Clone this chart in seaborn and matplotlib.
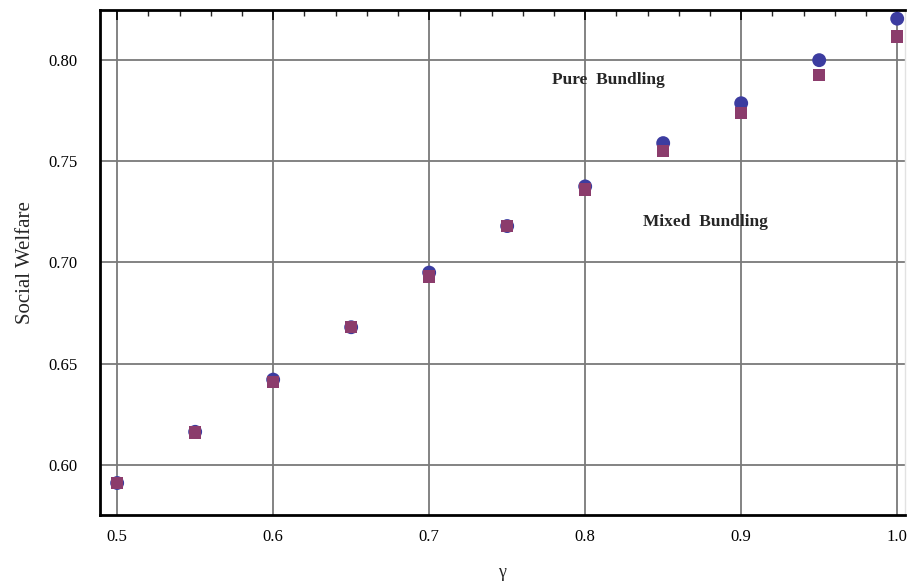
import numpy as np
import pandas as pd
import matplotlib
matplotlib.use("Agg")
import matplotlib.pyplot as plt
from matplotlib.ticker import MultipleLocator
import seaborn as sns

gamma = [0.50, 0.55, 0.60, 0.65, 0.70, 0.75, 0.80, 0.85, 0.90, 0.95, 1.00]
pure_bundling = [0.591, 0.6163, 0.6421, 0.668, 0.695, 0.718, 0.7376, 0.759, 0.7787, 0.800, 0.8205]
mixed_bundling = [0.591, 0.616, 0.641, 0.668, 0.693, 0.718, 0.736, 0.755, 0.774, 0.7926, 0.8117]

x_ticks = [0.5, 0.6, 0.7, 0.8, 0.9, 1.0]
x_ticklabels = ["0.5", "0.6", "0.7", "0.8", "0.9", "1.0"]
y_ticks = [0.60, 0.65, 0.70, 0.75, 0.80]
y_ticklabels = ["0.60", "0.65", "0.70", "0.75", "0.80"]

df = pd.DataFrame({
    "gamma": gamma * 2,
    "welfare": pure_bundling + mixed_bundling,
    "scheme": ["Pure"] * len(gamma) + ["Mixed"] * len(gamma),
})

sns.set_style("white")
plt.rcParams["font.family"] = ["Liberation Serif", "DejaVu Serif"]

fig = plt.figure(figsize=(9.09, 5.87), dpi=100)
ax = fig.add_axes([0.110, 0.1227, 0.8856, 0.8603])

sns.scatterplot(data=df, x="gamma", y="welfare", hue="scheme", style="scheme", size="scheme",
                hue_order=["Pure", "Mixed"], style_order=["Pure", "Mixed"],
                palette={"Pure": "#3c3ca0", "Mixed": "#8b3c6c"},
                markers={"Pure": "o", "Mixed": "s"},
                sizes={"Pure": 100, "Mixed": 80}, linewidth=0,
                legend=False, ax=ax, zorder=3)

ax.set_xlim(0.489, 1.005)
ax.set_ylim(0.5752, 0.8248)
ax.set_xticks(x_ticks)
ax.set_xticklabels(x_ticklabels)
ax.set_yticks(y_ticks)
ax.set_yticklabels(y_ticklabels)
ax.xaxis.set_minor_locator(MultipleLocator(0.02))
ax.yaxis.set_minor_locator(MultipleLocator(0.01))
ax.tick_params(which="major", direction="in", length=7, width=1.2, top=True, right=False,
               labelsize=12, colors="black")
ax.tick_params(axis="y", which="major", pad=16)
ax.tick_params(axis="x", which="major", pad=10)
ax.tick_params(which="minor", direction="in", length=4, width=1.0, top=True, right=False)
ax.grid(True, which="major", color="#7a7a7a", linewidth=1.3, zorder=0)

for side in ["left", "bottom", "top"]:
    ax.spines[side].set_color("black")
    ax.spines[side].set_linewidth(2)
ax.spines["right"].set_color("#e2e2e2")
ax.spines["right"].set_linewidth(1)

ax.set_xlabel("γ", fontsize=13, labelpad=14)
ax.set_ylabel("Social Welfare", fontsize=15, labelpad=10)

ax.text(0.815, 0.790, "Pure  Bundling", fontsize=12.5, ha="center", va="center", fontweight="bold")
ax.text(0.877, 0.720, "Mixed  Bundling", fontsize=12.5, ha="center", va="center", fontweight="bold")

fig.savefig("out.png", dpi=100)
